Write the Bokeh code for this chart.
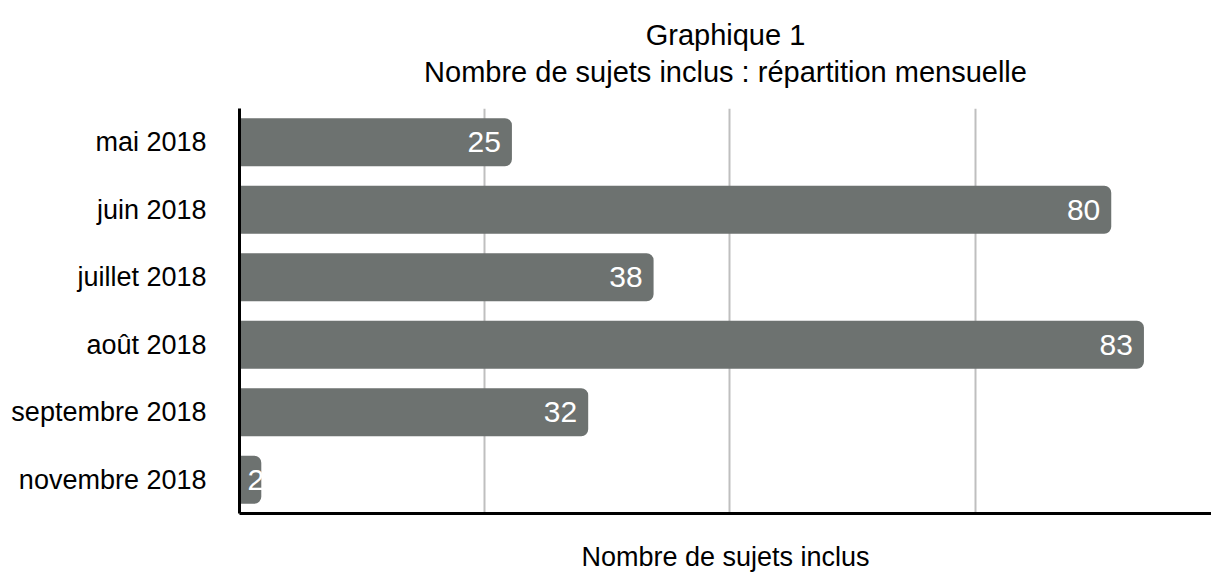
from bokeh.plotting import figure
from bokeh.models import ColumnDataSource, FactorRange, Range1d, FixedTicker, Title
from bokeh.core.properties import value
from bokeh.embed import file_html
from bokeh.resources import INLINE

months = ["mai 2018", "juin 2018", "juillet 2018", "août 2018", "septembre 2018", "novembre 2018"]
counts = [25, 80, 38, 83, 32, 2]
grid_ticks = [22.5, 45, 67.5]
title_text = "Graphique 1\nNombre de sujets inclus : répartition mensuelle"
x_label = "Nombre de sujets inclus"

FONT = "Liberation Sans"
BAR = "#6d7270"

p = figure(width=1211, height=574, output_backend="svg", toolbar_location=None,
           y_range=FactorRange(factors=list(reversed(months))),
           x_range=Range1d(0, 89.2),
           min_border_left=239, min_border_right=0, min_border_top=106, min_border_bottom=61)
p.outline_line_color = None

p.title = Title(text=title_text, align="center", text_align="center", text_font=FONT,
                text_font_size="29px", text_font_style="normal", text_color="black",
                text_line_height=1.15, standoff=37, vertical_align="top")

src = ColumnDataSource(dict(month=months, n=counts))
p.hbar(y="month", left=0, right="n", height=0.71, source=src,
       fill_color=BAR, line_color=None, border_radius=(0, 7, 7, 0))

big = [i for i, c in enumerate(counts) if c >= 5]
small = [i for i, c in enumerate(counts) if c < 5]
src_big = ColumnDataSource(dict(month=[months[i] for i in big], n=[counts[i] for i in big],
                                lbl=[str(counts[i]) for i in big]))
src_small = ColumnDataSource(dict(month=[months[i] for i in small], n=[0 for i in small],
                                  lbl=[str(counts[i]) for i in small]))
p.text(x="n", y="month", text="lbl", source=src_big, text_align="right", text_baseline="middle",
       x_offset=-11, text_color="white", text_font=value(FONT), text_font_size="30px")
p.text(x="n", y="month", text="lbl", source=src_small, text_align="left", text_baseline="middle",
       x_offset=8, text_color="white", text_font=value(FONT), text_font_size="30px")

# grids
p.ygrid.grid_line_color = None
p.xgrid.ticker = FixedTicker(ticks=grid_ticks)
p.xgrid.grid_line_color = "#bfbfbf"
p.xgrid.grid_line_width = 2

# x axis (no tick labels in the reference)
xa = p.xaxis[0]
xa.ticker = FixedTicker(ticks=[])
xa.major_label_standoff = 0
xa.major_tick_out = 0
xa.major_tick_in = 0
xa.minor_tick_out = 0
xa.minor_tick_in = 0
xa.axis_line_color = "black"
xa.axis_line_width = 3
xa.axis_label = x_label
xa.axis_label_standoff = 28
xa.axis_label_text_font = FONT
xa.axis_label_text_font_size = "27px"
xa.axis_label_text_font_style = "normal"
xa.axis_label_text_color = "black"

# y axis
ya = p.yaxis[0]
ya.major_tick_out = 0
ya.major_tick_in = 0
ya.axis_line_color = "black"
ya.axis_line_width = 3
ya.major_label_standoff = 33
ya.major_label_text_font = FONT
ya.major_label_text_font_size = "27px"
ya.major_label_text_color = "black"

open("out.html", "w").write(file_html(p, INLINE))
